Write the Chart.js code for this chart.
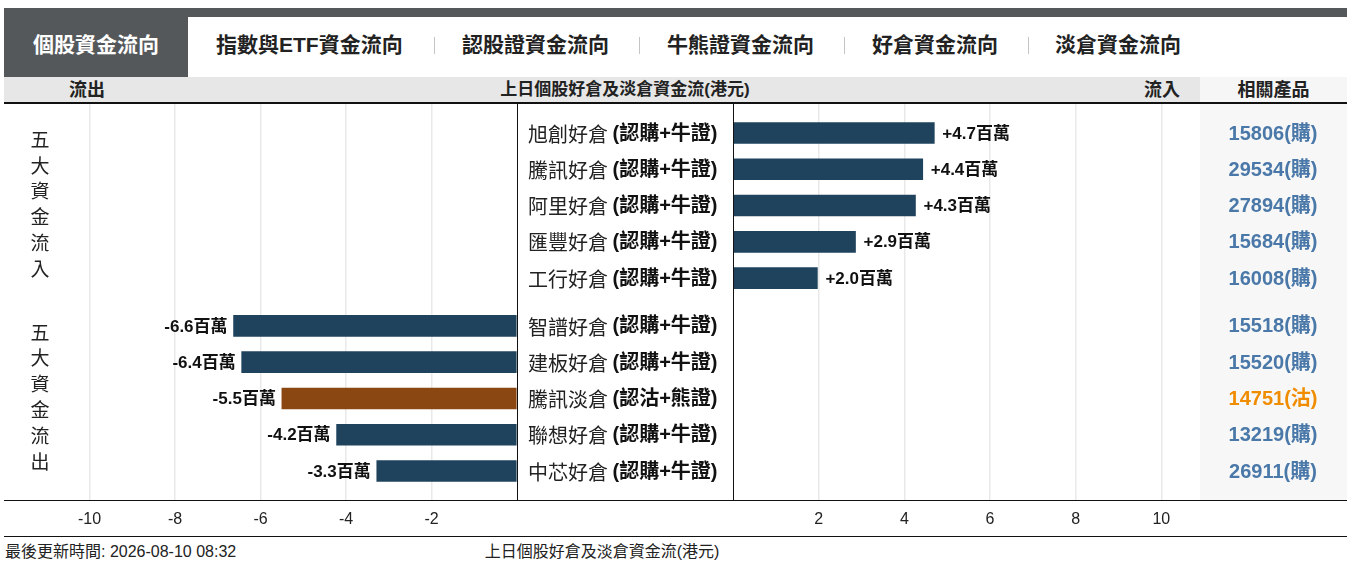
<!DOCTYPE html>
<html>
<head>
<meta charset="utf-8">
<script src="https://cdn.jsdelivr.net/npm/chart.js@4.4.1/dist/chart.umd.min.js"></script>
<style>
  html,body{margin:0;padding:0;background:#fff;width:1353px;height:567px;overflow:hidden;
    font-family:"Liberation Sans","Noto Sans CJK TC",sans-serif;color:#222;}
  .abs{position:absolute;}
  .tab{position:absolute;top:31px;height:28px;line-height:28px;font-size:21px;font-weight:bold;color:#222;white-space:nowrap;}
  .sep{position:absolute;top:37px;width:1px;height:17px;background:#c4c4c4;}
  .hdr{position:absolute;top:78px;height:24px;line-height:24px;font-size:18px;font-weight:bold;color:#222;white-space:nowrap;}
</style>
</head>
<body>
<!-- top strip and tabs -->
<div class="abs" style="left:4px;top:8px;width:1343px;height:9px;background:#55585b"></div>
<div class="abs" style="left:4px;top:8px;width:184px;height:69px;background:#55585b"></div>
<div class="tab" id="tab0" style="left:4px;width:184px;text-align:center;color:#fff"></div>
<div id="tabs"></div>
<!-- header row -->
<div class="abs" style="left:4px;top:77px;width:1343px;height:26px;background:#e7e7e7"></div>
<div class="abs" style="left:1200px;top:77px;width:147px;height:26px;background:#f6f6f6"></div>
<div class="abs" style="left:4px;top:102px;width:1343px;height:2px;background:#111"></div>
<div class="hdr" style="left:47px;width:80px;text-align:center">流出</div>
<div class="hdr" id="title" style="left:425px;width:400px;text-align:center;font-size:17px"></div>
<div class="hdr" style="left:1122px;width:80px;text-align:center">流入</div>
<div class="hdr" style="left:1200px;width:147px;text-align:center">相關產品</div>
<!-- charts -->
<div class="abs" style="left:4px;top:104px;width:513px;height:432px"><canvas id="leftChart"></canvas></div>
<div class="abs" style="left:517px;top:104px;width:830px;height:432px"><canvas id="rightChart"></canvas></div>
<!-- frame lines -->
<div class="abs" style="left:517px;top:104px;width:1px;height:396px;background:#111"></div>
<div class="abs" style="left:733px;top:104px;width:1px;height:396px;background:#111"></div>
<div class="abs" style="left:4px;top:500px;width:1343px;height:1px;background:#111"></div>
<div class="abs" style="left:4px;top:536px;width:1343px;height:1px;background:#111"></div>
<!-- footer -->
<div class="abs" id="updated" style="left:5px;top:542px;font-size:16px;line-height:19px;color:#222;white-space:nowrap"></div>
<div class="abs" id="footTitle" style="left:402px;width:400px;top:542px;font-size:16px;line-height:19px;text-align:center;color:#222"></div>

<script>
// ---------------- data ----------------
const tabLabels = ['個股資金流向','指數與ETF資金流向','認股證資金流向','牛熊證資金流向','好倉資金流向','淡倉資金流向'];
const chartTitle = '上日個股好倉及淡倉資金流(港元)';
const updatedText = '最後更新時間: 2026-08-10 08:32';
const groupTitles = ['五大資金流入','五大資金流出'];

const inflowNames = ['旭創好倉','騰訊好倉','阿里好倉','匯豐好倉','工行好倉'];
const inflowTypes = ['(認購+牛證)','(認購+牛證)','(認購+牛證)','(認購+牛證)','(認購+牛證)'];
const inflowValues = [4.7, 4.43, 4.26, 2.86, 1.97];
const inflowProducts = ['15806(購)','29534(購)','27894(購)','15684(購)','16008(購)'];

const outflowNames = ['智譜好倉','建板好倉','騰訊淡倉','聯想好倉','中芯好倉'];
const outflowTypes = ['(認購+牛證)','(認購+牛證)','(認沽+熊證)','(認購+牛證)','(認購+牛證)'];
const outflowValues = [-6.63, -6.44, -5.5, -4.22, -3.28];
const outflowProducts = ['15518(購)','15520(購)','14751(沽)','13219(購)','26911(購)'];

const leftTicks = [-10, -8, -6, -4, -2];
const rightTicks = [2, 4, 6, 8, 10];
const unit = '百萬';

// ---------------- page text ----------------
document.getElementById('tab0').textContent = tabLabels[0];
const tabLeft = [216, 462, 667, 872, 1055];
const sepLeft = [434, 639, 844, 1028];
const tabsDiv = document.getElementById('tabs');
tabLabels.slice(1).forEach((t, i) => {
  const d = document.createElement('div');
  d.className = 'tab'; d.style.left = tabLeft[i] + 'px'; d.textContent = t;
  tabsDiv.appendChild(d);
  if (i < sepLeft.length) {
    const s = document.createElement('div');
    s.className = 'sep'; s.style.left = sepLeft[i] + 'px';
    tabsDiv.appendChild(s);
  }
});
document.getElementById('title').textContent = chartTitle;
document.getElementById('footTitle').textContent = chartTitle;
document.getElementById('updated').textContent = updatedText;

// ---------------- chart helpers ----------------
const GROUP_GAP = 0.32;
const rowPos = i => i + (i >= 5 ? GROUP_GAP : 0);
const Y_MIN = -0.8, Y_MAX = 10.12;
const NAVY = '#1f435c', BROWN = '#8b4712';
const barColor = name => name.includes('淡倉') ? BROWN : NAVY;
const gridColor = '#e9e9e9';
const tickFont = {family: '"Liberation Sans","Noto Sans CJK TC",sans-serif', size: 16};
const fmt = v => (v > 0 ? '+' : '-') + Math.abs(v).toFixed(1) + unit;

function yScale() {
  return {type: 'linear', display: false, reverse: true, min: Y_MIN, max: Y_MAX, offset: false,
    grid: {display: false}};
}
function xScale(min, max, ticks) {
  return {
    type: 'linear', min, max, offset: false,
    border: {display: false},
    grid: {drawTicks: false, lineWidth: 1.5,
      color: c => (c.tick && ticks.includes(c.tick.value)) ? gridColor : 'rgba(0,0,0,0)'},
    ticks: {stepSize: 2, padding: 10, color: '#222', font: tickFont, autoSkip: false, maxRotation: 0,
      callback: v => ticks.includes(v) ? String(v) : ''},
    afterFit: s => { s.height = 36; s.paddingLeft = 0; s.paddingRight = 0; }
  };
}

const valueLabels = {
  id: 'valueLabels',
  afterDatasetsDraw(chart) {
    const ctx = chart.ctx;
    const meta = chart.getDatasetMeta(0);
    ctx.save();
    ctx.font = 'bold 17px "Liberation Sans","Noto Sans CJK TC",sans-serif';
    ctx.fillStyle = '#111';
    ctx.textBaseline = 'middle';
    meta.data.forEach((bar, i) => {
      const v = chart.data.datasets[0].data[i].x;
      if (v >= 0) { ctx.textAlign = 'left'; ctx.fillText(fmt(v), bar.x + 8, bar.y + 1); }
      else { ctx.textAlign = 'right'; ctx.fillText(fmt(v), bar.x - 6, bar.y + 1); }
    });
    ctx.restore();
  }
};

// group titles (vertical) in left chart
const groupText = {
  id: 'groupText',
  afterDraw(chart) {
    const ctx = chart.ctx, ys = chart.scales.y;
    ctx.save();
    ctx.font = '19px "Noto Sans CJK TC",sans-serif';
    ctx.fillStyle = '#222';
    ctx.textAlign = 'center';
    ctx.textBaseline = 'middle';
    const centers = [ys.getPixelForValue(rowPos(2)), ys.getPixelForValue(rowPos(7))];
    groupTitles.forEach((t, g) => {
      const chars = [...t];
      const step = 25.8;
      chars.forEach((ch, k) => {
        ctx.fillText(ch, 36, centers[g] - 1.5 + (k - (chars.length - 1) / 2) * step);
      });
    });
    ctx.restore();
  }
};

// middle labels + product column in right chart
const sideText = {
  id: 'sideText',
  afterDraw(chart) {
    const ctx = chart.ctx, ys = chart.scales.y, area = chart.chartArea;
    const names = inflowNames.concat(outflowNames);
    const types = inflowTypes.concat(outflowTypes);
    const prods = inflowProducts.concat(outflowProducts);
    ctx.save();
    // product column background
    ctx.fillStyle = '#f7f7f7';
    ctx.fillRect(683, 0, 147, area.bottom);
    ctx.textBaseline = 'middle';
    names.forEach((n, i) => {
      const y = ys.getPixelForValue(rowPos(i)) + 1;
      ctx.textAlign = 'left';
      ctx.fillStyle = '#222';
      ctx.font = '20px "Noto Sans CJK TC",sans-serif';
      ctx.fillText(n, 11, y);
      const w = ctx.measureText(n + ' ').width;
      ctx.font = 'bold 20px "Liberation Sans","Noto Sans CJK TC",sans-serif';
      ctx.fillStyle = '#111';
      ctx.fillText(types[i], 11 + w, y);
      ctx.textAlign = 'center';
      ctx.fillStyle = prods[i].includes('沽') ? '#f08c00' : '#4a78a8';
      ctx.fillText(prods[i], 756, y);
    });
    ctx.restore();
  }
};

const common = {
  indexAxis: 'y', responsive: true, maintainAspectRatio: false, animation: false,
  plugins: {legend: {display: false}, tooltip: {enabled: false}}
};

new Chart(document.getElementById('leftChart'), {
  type: 'bar',
  data: {datasets: [{
    data: outflowValues.map((v, i) => ({x: v, y: rowPos(i + 5)})),
    backgroundColor: outflowNames.map(barColor), borderWidth: 0, barThickness: 21
  }]},
  options: Object.assign({}, common, {
    layout: {padding: 0, autoPadding: false},
    scales: {x: xScale(-12, 0, leftTicks), y: yScale()}
  }),
  plugins: [valueLabels, groupText]
});

new Chart(document.getElementById('rightChart'), {
  type: 'bar',
  data: {datasets: [{
    data: inflowValues.map((v, i) => ({x: v, y: rowPos(i)})),
    backgroundColor: inflowNames.map(barColor), borderWidth: 0, barThickness: 21
  }]},
  options: Object.assign({}, common, {
    layout: {padding: {left: 216, right: 100, top: 0, bottom: 0}, autoPadding: false},
    scales: {x: xScale(0, 12, rightTicks), y: yScale()}
  }),
  plugins: [valueLabels, sideText]
});
</script>
</body>
</html>
